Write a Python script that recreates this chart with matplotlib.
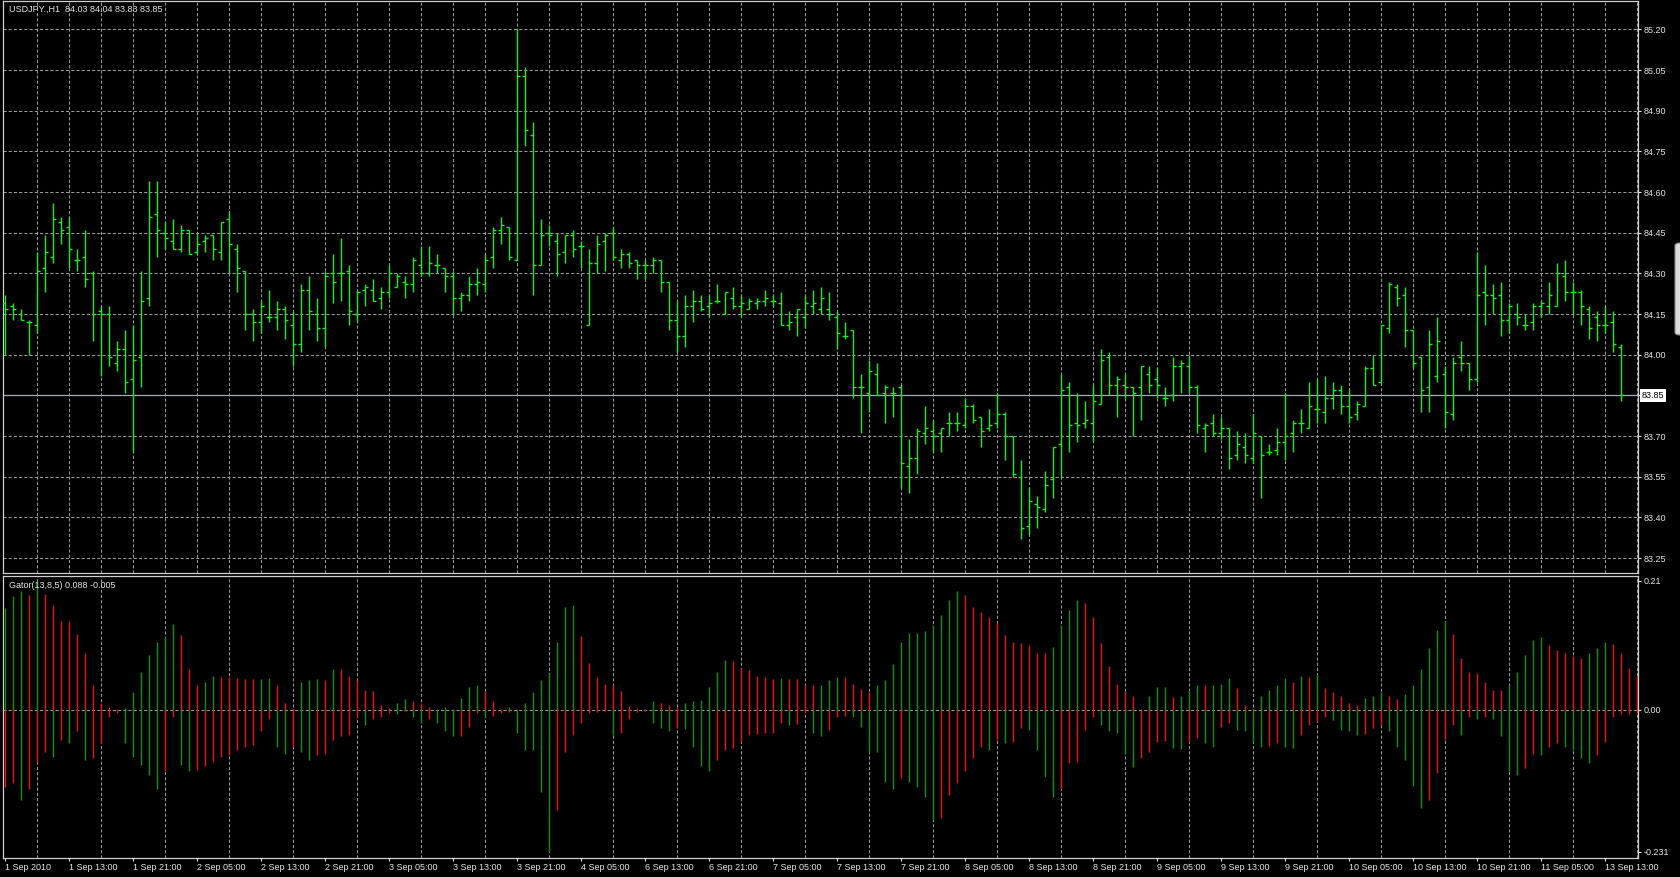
import numpy as np
import matplotlib.pyplot as plt
from matplotlib.collections import LineCollection
from matplotlib.patches import FancyBboxPatch
import matplotlib.transforms as mtransforms

# USDJPY H1 bars (203 bars)
open_ = [84.19, 84.18, 84.15, 84.12, 84.11, 84.32, 84.36, 84.49, 84.47, 84.35,
         84.36, 84.30, 84.16, 84.15, 83.97, 84.02, 83.91, 83.99, 84.21, 84.52,
         84.45, 84.42, 84.39, 84.46, 84.38, 84.42, 84.44, 84.38, 84.50, 84.39,
         84.31, 84.15, 84.12, 84.14, 84.14, 84.17, 84.11, 84.04, 84.24, 84.15,
         84.10, 84.30, 84.30, 84.31, 84.15, 84.24, 84.24, 84.21, 84.23, 84.25,
         84.27, 84.26, 84.33, 84.30, 84.33, 84.32, 84.29, 84.21, 84.22, 84.26,
         84.26, 84.36, 84.46, 84.47, 84.35, 85.03, 84.81, 84.33, 84.45, 84.42,
         84.38, 84.44, 84.40, 84.11, 84.34, 84.42, 84.45, 84.35, 84.37, 84.35,
         84.33, 84.33, 84.35, 84.27, 84.13, 84.07, 84.18, 84.20, 84.18, 84.20,
         84.15, 84.21, 84.18, 84.17, 84.19, 84.20, 84.20, 84.19, 84.11, 84.14,
         84.14, 84.18, 84.17, 84.17, 84.14, 84.07, 84.09, 83.88, 83.86, 83.93,
         83.86, 83.86, 83.88, 83.59, 83.62, 83.71, 83.72, 83.71, 83.75, 83.75,
         83.74, 83.81, 83.77, 83.73, 83.75, 83.78, 83.70, 83.55, 83.37, 83.45,
         83.43, 83.54, 83.67, 83.88, 83.75, 83.75, 83.75, 83.82, 83.99, 83.89,
         83.89, 83.88, 83.88, 83.93, 83.91, 83.84, 83.85, 83.96, 83.96, 83.88,
         83.73, 83.75, 83.71, 83.73, 83.63, 83.66, 83.62, 83.70, 83.64, 83.65,
         83.68, 83.71, 83.75, 83.73, 83.80, 83.79, 83.84, 83.87, 83.81, 83.78,
         83.81, 83.95, 83.90, 84.10, 84.25, 84.22, 84.09, 83.99, 83.88, 83.92,
         83.93, 83.78, 83.99, 83.97, 83.91, 84.23, 84.22, 84.22, 84.13, 84.15,
         84.11, 84.12, 84.18, 84.18, 84.18, 84.29, 84.23, 84.23, 84.17, 84.14,
         84.11, 84.12, 84.03]
high = [84.22, 84.19, 84.17, 84.13, 84.38, 84.44, 84.56, 84.51, 84.51, 84.39,
        84.46, 84.31, 84.18, 84.18, 84.05, 84.09, 84.11, 84.31, 84.64, 84.64,
        84.49, 84.50, 84.48, 84.46, 84.45, 84.44, 84.44, 84.49, 84.53, 84.41,
        84.31, 84.17, 84.20, 84.24, 84.20, 84.18, 84.16, 84.26, 84.29, 84.21,
        84.31, 84.37, 84.43, 84.33, 84.24, 84.26, 84.28, 84.25, 84.33, 84.30,
        84.29, 84.36, 84.40, 84.40, 84.37, 84.32, 84.31, 84.23, 84.29, 84.32,
        84.37, 84.47, 84.51, 84.47, 85.20, 85.06, 84.86, 84.50, 84.48, 84.45,
        84.44, 84.46, 84.42, 84.39, 84.44, 84.45, 84.47, 84.39, 84.38, 84.35,
        84.35, 84.36, 84.35, 84.27, 84.20, 84.22, 84.24, 84.22, 84.22, 84.26,
        84.23, 84.25, 84.22, 84.21, 84.21, 84.24, 84.22, 84.23, 84.16, 84.17,
        84.22, 84.24, 84.25, 84.23, 84.16, 84.12, 84.09, 83.93, 83.98, 83.97,
        83.89, 83.88, 83.89, 83.69, 83.73, 83.81, 83.76, 83.73, 83.79, 83.79,
        83.84, 83.82, 83.77, 83.80, 83.86, 83.79, 83.70, 83.61, 83.51, 83.48,
        83.57, 83.66, 83.93, 83.90, 83.86, 83.83, 83.89, 84.02, 84.01, 83.92,
        83.93, 83.88, 83.96, 83.96, 83.95, 83.88, 83.99, 83.98, 84.00, 83.89,
        83.75, 83.78, 83.77, 83.73, 83.72, 83.71, 83.78, 83.70, 83.67, 83.73,
        83.86, 83.76, 83.80, 83.90, 83.91, 83.92, 83.90, 83.89, 83.87, 83.83,
        83.96, 84.00, 84.11, 84.27, 84.26, 84.25, 84.09, 83.99, 84.09, 84.14,
        83.96, 83.99, 84.05, 83.97, 84.38, 84.33, 84.26, 84.27, 84.19, 84.19,
        84.15, 84.19, 84.20, 84.27, 84.34, 84.35, 84.27, 84.24, 84.18, 84.16,
        84.18, 84.16, 84.04]
low = [84.00, 84.13, 84.13, 84.00, 84.08, 84.23, 84.34, 84.41, 84.32, 84.31,
       84.25, 84.05, 83.92, 83.96, 83.94, 83.86, 83.64, 83.88, 84.18, 84.36,
       84.39, 84.39, 84.38, 84.37, 84.37, 84.38, 84.35, 84.35, 84.30, 84.23,
       84.09, 84.05, 84.08, 84.12, 84.09, 84.06, 83.96, 84.01, 84.09, 84.05,
       84.03, 84.19, 84.20, 84.11, 84.12, 84.18, 84.20, 84.17, 84.21, 84.25,
       84.21, 84.23, 84.29, 84.29, 84.30, 84.23, 84.15, 84.16, 84.20, 84.22,
       84.23, 84.32, 84.41, 84.35, 84.35, 84.77, 84.22, 84.33, 84.40, 84.29,
       84.34, 84.36, 84.32, 84.11, 84.30, 84.31, 84.35, 84.32, 84.32, 84.28,
       84.28, 84.30, 84.23, 84.09, 84.01, 84.03, 84.12, 84.16, 84.14, 84.19,
       84.15, 84.17, 84.14, 84.17, 84.17, 84.18, 84.18, 84.11, 84.09, 84.07,
       84.10, 84.15, 84.15, 84.13, 84.02, 84.06, 83.84, 83.71, 83.79, 83.85,
       83.75, 83.77, 83.51, 83.49, 83.56, 83.67, 83.64, 83.64, 83.70, 83.72,
       83.73, 83.75, 83.66, 83.72, 83.73, 83.61, 83.55, 83.32, 83.34, 83.36,
       83.42, 83.47, 83.55, 83.64, 83.68, 83.73, 83.68, 83.82, 83.85, 83.77,
       83.84, 83.70, 83.76, 83.86, 83.84, 83.81, 83.83, 83.86, 83.86, 83.71,
       83.64, 83.70, 83.69, 83.58, 83.61, 83.60, 83.60, 83.47, 83.63, 83.63,
       83.61, 83.64, 83.71, 83.73, 83.75, 83.75, 83.80, 83.78, 83.75, 83.76,
       83.81, 83.89, 83.90, 84.08, 84.18, 84.03, 83.95, 83.79, 83.79, 83.90,
       83.73, 83.76, 83.94, 83.87, 83.90, 84.11, 84.15, 84.07, 84.08, 84.11,
       84.09, 84.09, 84.14, 84.15, 84.18, 84.20, 84.15, 84.11, 84.06, 84.05,
       84.08, 84.01, 83.83]
close = [84.17, 84.17, 84.13, 84.12, 84.31, 84.38, 84.50, 84.46, 84.39, 84.35,
         84.28, 84.15, 84.15, 83.99, 84.02, 83.90, 83.98, 84.20, 84.51, 84.46,
         84.43, 84.39, 84.46, 84.37, 84.41, 84.43, 84.39, 84.49, 84.41, 84.32,
         84.15, 84.12, 84.18, 84.14, 84.17, 84.13, 84.04, 84.24, 84.16, 84.10,
         84.29, 84.27, 84.30, 84.16, 84.23, 84.25, 84.20, 84.23, 84.30, 84.29,
         84.26, 84.35, 84.30, 84.34, 84.33, 84.29, 84.21, 84.22, 84.26, 84.27,
         84.35, 84.46, 84.48, 84.36, 85.03, 84.83, 84.33, 84.44, 84.44, 84.37,
         84.44, 84.39, 84.40, 84.34, 84.41, 84.44, 84.36, 84.37, 84.34, 84.33,
         84.33, 84.35, 84.27, 84.13, 84.07, 84.18, 84.20, 84.17, 84.19, 84.20,
         84.23, 84.18, 84.19, 84.20, 84.20, 84.21, 84.20, 84.11, 84.12, 84.17,
         84.19, 84.19, 84.21, 84.15, 84.08, 84.07, 83.88, 83.88, 83.94, 83.85,
         83.88, 83.86, 83.60, 83.62, 83.72, 83.73, 83.70, 83.73, 83.75, 83.75,
         83.81, 83.76, 83.72, 83.74, 83.78, 83.70, 83.56, 83.36, 83.46, 83.44,
         83.52, 83.66, 83.87, 83.74, 83.74, 83.76, 83.83, 83.98, 83.89, 83.91,
         83.88, 83.86, 83.96, 83.89, 83.89, 83.84, 83.96, 83.97, 83.88, 83.74,
         83.74, 83.71, 83.73, 83.62, 83.67, 83.63, 83.71, 83.63, 83.64, 83.68,
         83.70, 83.75, 83.75, 83.81, 83.80, 83.84, 83.87, 83.81, 83.77, 83.82,
         83.95, 83.89, 84.11, 84.26, 84.21, 84.09, 83.97, 83.87, 84.04, 84.05,
         83.79, 83.97, 83.97, 83.91, 84.22, 84.22, 84.21, 84.13, 84.18, 84.14,
         84.11, 84.18, 84.19, 84.22, 84.30, 84.23, 84.23, 84.18, 84.10, 84.11,
         84.11, 84.04, 83.85]

# Gator(13,8,5) histograms as drawn (shifted forward, 205 positions)
gator_up = [0.166, 0.185, 0.193, 0.187, 0.210, 0.189, 0.171, 0.145, 0.144, 0.124,
            0.092, 0.041, 0.011, 0.005, 0.001, 0.003, 0.030, 0.062, 0.090, 0.110,
            0.119, 0.140, 0.122, 0.067, 0.041, 0.045, 0.055, 0.054, 0.053, 0.052,
            0.051, 0.050, 0.051, 0.052, 0.041, 0.012, 0.002, 0.045, 0.049, 0.050,
            0.048, 0.067, 0.066, 0.055, 0.049, 0.033, 0.031, 0.008, 0.003, 0.011,
            0.017, 0.014, 0.011, 0.005, 0.001, 0.005, 0.002, 0.019, 0.038, 0.041,
            0.031, 0.015, 0.001, 0.005, 0.002, 0.011, 0.030, 0.049, 0.060, 0.110,
            0.168, 0.170, 0.121, 0.076, 0.054, 0.043, 0.041, 0.031, 0.007, 0.003,
            0.001, 0.015, 0.012, 0.008, 0.005, 0.011, 0.014, 0.016, 0.038, 0.062,
            0.081, 0.080, 0.068, 0.065, 0.055, 0.054, 0.050, 0.052, 0.051, 0.050,
            0.041, 0.040, 0.041, 0.049, 0.054, 0.053, 0.043, 0.034, 0.030, 0.041,
            0.049, 0.074, 0.110, 0.125, 0.126, 0.129, 0.138, 0.155, 0.179, 0.194,
            0.187, 0.168, 0.160, 0.152, 0.141, 0.122, 0.110, 0.109, 0.106, 0.093,
            0.092, 0.103, 0.138, 0.163, 0.179, 0.174, 0.152, 0.109, 0.072, 0.043,
            0.031, 0.023, 0.001, 0.023, 0.037, 0.038, 0.021, 0.023, 0.033, 0.041,
            0.040, 0.041, 0.042, 0.052, 0.035, 0.008, 0.001, 0.023, 0.033, 0.041,
            0.052, 0.046, 0.055, 0.054, 0.059, 0.035, 0.030, 0.023, 0.011, 0.008,
            0.019, 0.023, 0.030, 0.023, 0.017, 0.026, 0.041, 0.066, 0.100, 0.130,
            0.144, 0.124, 0.084, 0.062, 0.060, 0.045, 0.033, 0.032, 0.041, 0.062,
            0.090, 0.114, 0.119, 0.106, 0.098, 0.092, 0.088, 0.084, 0.093, 0.100,
            0.110, 0.107, 0.093, 0.068, 0.055]
gator_dn = [-0.125, -0.119, -0.147, -0.128, -0.084, -0.068, -0.076, -0.049, -0.054, -0.035,
            -0.081, -0.079, -0.054, -0.011, -0.005, -0.054, -0.076, -0.090, -0.106, -0.129,
            -0.100, -0.011, -0.090, -0.100, -0.098, -0.092, -0.084, -0.076, -0.073, -0.065,
            -0.060, -0.057, -0.035, -0.014, -0.060, -0.071, -0.060, -0.068, -0.081, -0.073,
            -0.072, -0.049, -0.043, -0.041, -0.011, -0.024, -0.014, -0.011, -0.005, -0.006,
            -0.001, -0.011, -0.022, -0.014, -0.022, -0.035, -0.043, -0.042, -0.027, -0.005,
            -0.011, -0.010, -0.005, -0.004, -0.038, -0.065, -0.066, -0.133, -0.231, -0.163,
            -0.068, -0.041, -0.022, -0.005, -0.004, -0.001, -0.041, -0.038, -0.014, -0.003,
            -0.001, -0.022, -0.030, -0.035, -0.030, -0.031, -0.060, -0.092, -0.100, -0.081,
            -0.065, -0.062, -0.052, -0.041, -0.039, -0.038, -0.037, -0.022, -0.024, -0.023,
            -0.005, -0.038, -0.043, -0.033, -0.011, -0.010, -0.012, -0.027, -0.068, -0.069,
            -0.117, -0.128, -0.111, -0.117, -0.125, -0.141, -0.179, -0.176, -0.138, -0.119,
            -0.100, -0.079, -0.060, -0.065, -0.049, -0.054, -0.052, -0.030, -0.033, -0.065,
            -0.109, -0.141, -0.128, -0.087, -0.085, -0.033, -0.011, -0.024, -0.035, -0.038,
            -0.071, -0.093, -0.079, -0.068, -0.052, -0.051, -0.062, -0.063, -0.052, -0.046,
            -0.054, -0.060, -0.027, -0.022, -0.033, -0.035, -0.052, -0.060, -0.059, -0.054,
            -0.060, -0.062, -0.041, -0.024, -0.019, -0.011, -0.016, -0.033, -0.035, -0.041,
            -0.039, -0.030, -0.024, -0.035, -0.060, -0.081, -0.124, -0.159, -0.147, -0.103,
            -0.049, -0.024, -0.041, -0.011, -0.014, -0.011, -0.014, -0.043, -0.100, -0.106,
            -0.095, -0.071, -0.073, -0.060, -0.054, -0.060, -0.065, -0.079, -0.087, -0.073,
            -0.052, -0.011, -0.007, -0.006, -0.005]

price_ticks = [85.20, 85.05, 84.90, 84.75, 84.60, 84.45, 84.30, 84.15,
               84.00, 83.85, 83.70, 83.55, 83.40, 83.25]
gator_ticks = [0.21, 0.00, -0.231]
gator_tick_labels = ['0.21', '0.00', '-0.231']
date_labels = ['1 Sep 2010', '1 Sep 13:00', '1 Sep 21:00', '2 Sep 05:00', '2 Sep 13:00',
               '2 Sep 21:00', '3 Sep 05:00', '3 Sep 13:00', '3 Sep 21:00', '4 Sep 05:00',
               '6 Sep 13:00', '6 Sep 21:00', '7 Sep 05:00', '7 Sep 13:00', '7 Sep 21:00',
               '8 Sep 05:00', '8 Sep 13:00', '8 Sep 21:00', '9 Sep 05:00', '9 Sep 13:00',
               '9 Sep 21:00', '10 Sep 05:00', '10 Sep 13:00', '10 Sep 21:00', '11 Sep 05:00',
               '13 Sep 13:00']
last_price = 83.85

plt.rcParams['font.family'] = ['Liberation Sans', 'DejaVu Sans']
plt.rcParams['font.size'] = 6.5

BG = 'black'
FG = '#e6e6e6'
GRID = '#9a9a9a'
BAR = '#1cec1c'
UP = '#0c930c'
DOWN = '#ee1111'

W, H = 1680, 877
fig = plt.figure(figsize=(W / 100, H / 100), dpi=100, facecolor=BG)
ax1 = fig.add_axes([3 / W, 1 - 573 / H, 1635 / W, 572 / H], facecolor=BG)
ax2 = fig.add_axes([3 / W, 1 - 858 / H, 1635 / W, 282 / H], facecolor=BG)

xlim = (-0.25, 204.125)

# price bars
o = np.array(open_); h = np.array(high); l = np.array(low); c = np.array(close)
xb = np.arange(len(c))
tick = 0.375
segs = []
for i in xb:
    segs.append([(i, l[i]), (i, h[i])])
    segs.append([(i - tick, o[i]), (i, o[i])])
    segs.append([(i, c[i]), (i + tick, c[i])])
ax1.add_collection(LineCollection(segs, colors=BAR, linewidths=1.0, zorder=3))
ax1.axhline(last_price, color='#a6aabd', lw=0.9, zorder=2.5)

# gator histograms, green when the bar grows, red when it shrinks
up = np.array(gator_up); dn = np.array(gator_dn)
xg = np.arange(len(up))
up_col = [UP] + [UP if up[i] > up[i - 1] else DOWN for i in range(1, len(up))]
dn_col = [DOWN] + [UP if dn[i] < dn[i - 1] else DOWN for i in range(1, len(dn))]
ax2.vlines(xg, 0, up, colors=up_col, lw=1.0, zorder=3)
ax2.vlines(xg, dn, 0, colors=dn_col, lw=1.0, zorder=3)
ax2.axhline(0, color=GRID, lw=0.75, dashes=(3, 2), zorder=1)

ax1.set_ylim(83.195, 85.305)
ax2.set_ylim(-0.241, 0.218)

for ax in (ax1, ax2):
    ax.set_xlim(*xlim)
    ax.yaxis.tick_right()
    ax.set_xticks(np.arange(4, 205, 4), minor=True)
    ax.grid(which='minor', axis='x', color=GRID, lw=0.75, dashes=(3, 2), zorder=1)
    ax.tick_params(which='minor', length=0)
    ax.tick_params(which='major', colors=FG, labelcolor=FG, length=2.2, width=0.8,
                   pad=2, labelsize=6.5)
    for s in ax.spines.values():
        s.set_color('#cfcfcf')
        s.set_linewidth(0.9)
    ax.set_axisbelow(True)

ax1.set_yticks(price_ticks)
ax1.set_yticklabels(['%.2f' % p for p in price_ticks])
ax1.grid(which='major', axis='y', color=GRID, lw=0.75, dashes=(3, 2), zorder=1)
ax1.set_xticks([])

ax2.set_yticks(gator_ticks)
ax2.set_yticklabels(gator_tick_labels)
ax2.set_xticks(np.arange(0, 8 * len(date_labels), 8))
ax2.set_xticklabels(date_labels, ha='left')
ax2.tick_params(axis='x', pad=1.5)

# current price tag on the price scale
trans = mtransforms.blended_transform_factory(ax1.transAxes, ax1.transData)
ax1.text(1.0 + 4 / 1635, last_price, '%.2f' % last_price, transform=trans, ha='left',
         va='center', color='black', fontsize=6.5, clip_on=False, zorder=5,
         bbox=dict(boxstyle='square,pad=0.2', fc='white', ec='none'))

fig.text(9 / W, 1 - 9 / H, 'USDJPY.,H1  84.03 84.04 83.83 83.85', color=FG,
         va='center', ha='left', fontsize=6.5)
fig.text(9 / W, 1 - 585 / H, 'Gator(13,8,5) 0.088 -0.005', color=FG,
         va='center', ha='left', fontsize=6.5)

# scrollbar stub at the right edge
fig.patches.append(FancyBboxPatch((1675 / W, 1 - 335 / H), 10 / W, 92 / H,
                                  boxstyle='round,pad=0,rounding_size=0.003',
                                  transform=fig.transFigure, fc='#dcdcdc',
                                  ec='#8c8c8c', lw=0.8))

fig.savefig('out.png', dpi=100, facecolor=BG)
